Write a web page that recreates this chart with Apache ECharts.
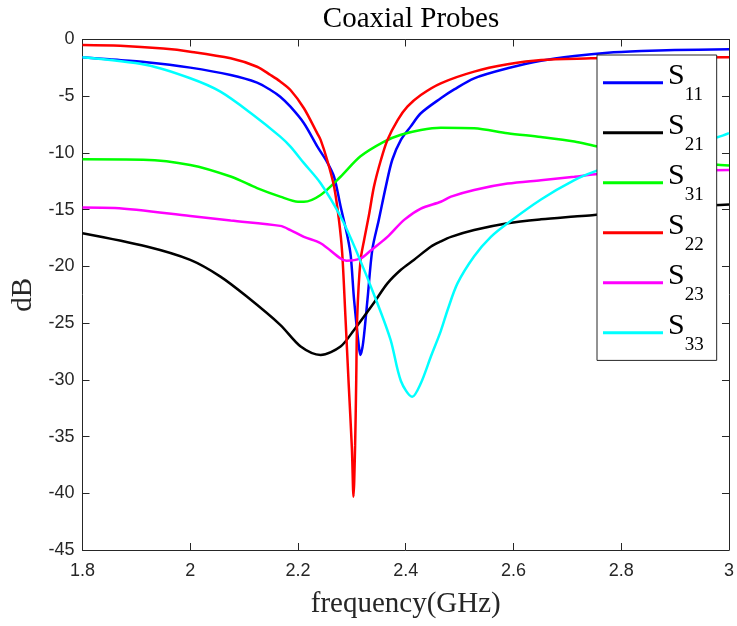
<!DOCTYPE html>
<html><head><meta charset="utf-8">
<script src="https://cdn.jsdelivr.net/npm/echarts@6/dist/echarts.min.js"></script>
<style>html,body{margin:0;padding:0;background:#fff}#c{width:737px;height:626px}</style>
</head><body><div id="c"></div>
<script>
const seriesNames = ['S11', 'S21', 'S31', 'S22', 'S23', 'S33'];
const seriesColors = ['#0000ff', '#000000', '#00ff00', '#ff0000', '#ff00ff', '#00ffff'];
const xTicks = [1.8, 2, 2.2, 2.4, 2.6, 2.8, 3];
const yTicks = [0, -5, -10, -15, -20, -25, -30, -35, -40, -45];

const s11 = [[1.80,-1.57],[1.85,-1.75],[1.919,-2.0],[2.0,-2.48],[2.075,-3.13],[2.124,-3.8],[2.149,-4.45],[2.167,-5.04],[2.186,-5.92],[2.211,-7.38],[2.236,-9.44],[2.254,-10.8],[2.267,-12.1],[2.279,-14.7],[2.292,-17.4],[2.298,-19.1],[2.304,-22.9],[2.313,-27.06],[2.316,-27.8],[2.321,-26.7],[2.329,-22.9],[2.338,-18.5],[2.350,-15.9],[2.363,-12.97],[2.375,-10.6],[2.391,-8.85],[2.409,-7.68],[2.428,-6.5],[2.465,-5.18],[2.49,-4.4],[2.527,-3.42],[2.589,-2.54],[2.651,-1.87],[2.713,-1.45],[2.775,-1.16],[2.837,-1.01],[2.899,-0.92],[3.0,-0.87]];
const s21 = [[1.80,-17.08],[1.919,-18.25],[2.0,-19.43],[2.056,-20.9],[2.105,-22.66],[2.167,-25.15],[2.205,-27.06],[2.242,-27.8],[2.279,-27.06],[2.304,-25.6],[2.341,-23.2],[2.366,-21.5],[2.391,-20.3],[2.415,-19.43],[2.447,-18.25],[2.465,-17.8],[2.484,-17.4],[2.527,-16.8],[2.589,-16.2],[2.651,-15.85],[2.713,-15.6],[2.75,-15.46],[2.8,-15.2],[2.9,-14.8],[3.0,-14.55]];
const s31 = [[1.80,-10.56],[1.913,-10.6],[2.0,-11.06],[2.075,-12.08],[2.124,-13.1],[2.167,-13.85],[2.2,-14.3],[2.211,-14.3],[2.242,-13.7],[2.279,-12.1],[2.316,-10.3],[2.36,-9.0],[2.391,-8.4],[2.428,-7.97],[2.465,-7.77],[2.527,-7.82],[2.589,-8.26],[2.651,-8.6],[2.713,-9.0],[2.757,-9.44],[2.85,-10.2],[2.95,-10.9],[3.0,-11.1]];
const s22 = [[1.80,-0.48],[1.87,-0.55],[1.95,-0.8],[2.0,-1.07],[2.075,-1.66],[2.124,-2.4],[2.149,-3.13],[2.167,-3.7],[2.186,-4.45],[2.211,-6.06],[2.236,-8.3],[2.242,-8.85],[2.254,-10.6],[2.267,-12.97],[2.276,-15.9],[2.282,-18.8],[2.288,-24.4],[2.294,-30.3],[2.300,-36.0],[2.303,-40.3],[2.306,-35.8],[2.308,-30.3],[2.310,-24.4],[2.316,-19.5],[2.323,-17.6],[2.332,-15.4],[2.341,-12.97],[2.354,-10.6],[2.366,-8.85],[2.385,-7.1],[2.403,-5.92],[2.428,-4.89],[2.465,-3.86],[2.527,-2.83],[2.589,-2.19],[2.651,-1.8],[2.744,-1.66],[2.8,-1.6],[3.0,-1.57]];
const s23 = [[1.80,-14.8],[1.86,-14.85],[2.0,-15.55],[2.075,-15.96],[2.167,-16.43],[2.186,-16.8],[2.211,-17.4],[2.242,-17.96],[2.279,-19.3],[2.29,-19.5],[2.316,-19.3],[2.335,-18.6],[2.366,-17.4],[2.397,-15.9],[2.428,-14.9],[2.465,-14.3],[2.484,-13.85],[2.527,-13.26],[2.589,-12.7],[2.651,-12.4],[2.713,-12.1],[2.757,-11.85],[2.9,-11.6],[3.0,-11.5]];
const s33 = [[1.80,-1.57],[1.919,-2.25],[2.0,-3.42],[2.056,-4.6],[2.117,-6.65],[2.167,-8.56],[2.186,-9.44],[2.211,-10.9],[2.242,-12.67],[2.279,-15.6],[2.307,-18.5],[2.347,-23.2],[2.372,-26.5],[2.391,-30.1],[2.412,-31.5],[2.428,-30.3],[2.447,-27.9],[2.465,-25.7],[2.478,-23.8],[2.496,-21.5],[2.527,-19.1],[2.558,-17.4],[2.589,-16.2],[2.651,-14.1],[2.713,-12.4],[2.75,-11.65],[2.8,-10.9],[2.9,-9.5],[2.98,-8.6],[3.0,-8.26]];
const seriesData = [s11, s21, s31, s22, s23, s33];

const axisColor = '#262626';
const tickFont = 'Liberation Sans';
const serif = 'Liberation Serif';
const fmt = v => String(+(+v).toFixed(1));

const chart = echarts.init(document.getElementById('c'), null, {renderer: 'canvas'});
const baseX = {
  type: 'value', min: 1.8, max: 3, interval: 0.2,
  axisLine: {show: true, onZero: false, lineStyle: {color: axisColor, width: 1}},
  axisTick: {show: true, inside: true, length: 7, lineStyle: {color: axisColor}},
  splitLine: {show: false}
};
const baseY = {
  type: 'value', min: -45, max: 0, interval: 5,
  axisLine: {show: true, onZero: false, lineStyle: {color: axisColor, width: 1}},
  axisTick: {show: true, inside: true, length: 7, lineStyle: {color: axisColor}},
  splitLine: {show: false}
};
chart.setOption({
  animation: false,
  backgroundColor: '#ffffff',
  title: {
    text: 'Coaxial Probes', left: 406, top: 0, textAlign: 'center',
    textStyle: {fontFamily: serif, fontWeight: 'normal', fontSize: 29, color: '#000'}
  },
  grid: {left: 82.5, right: 7, top: 39.5, bottom: 76, containLabel: false},
  xAxis: [
    Object.assign({}, baseX, {
      position: 'bottom',
      axisLabel: {show: true, fontFamily: tickFont, fontSize: 18, color: axisColor, margin: 12, formatter: fmt},
      name: 'frequency(GHz)', nameLocation: 'middle', nameGap: 40,
      nameTextStyle: {fontFamily: serif, fontSize: 29, color: axisColor}
    }),
    Object.assign({}, baseX, {position: 'top', axisLabel: {show: false}})
  ],
  yAxis: [
    Object.assign({}, baseY, {
      position: 'left',
      axisLabel: {show: true, fontFamily: tickFont, fontSize: 18, color: axisColor, margin: 8, formatter: fmt},
      name: 'dB', nameLocation: 'middle', nameGap: 43, nameRotate: 90,
      nameTextStyle: {fontFamily: serif, fontSize: 29, color: axisColor}
    }),
    Object.assign({}, baseY, {position: 'right', axisLabel: {show: false}})
  ],
  legend: {
    orient: 'vertical', left: 597, top: 55,
    padding: [5.7, 13, 5.7, 6],
    itemGap: 6, itemWidth: 60, itemHeight: 3,
    icon: 'rect',
    backgroundColor: '#ffffff', borderColor: axisColor, borderWidth: 1,
    data: seriesNames,
    formatter: n => '{s|S}{sub|' + n.slice(1) + '}',
    textStyle: {
      color: '#000',
      rich: {
        s: {fontFamily: serif, fontSize: 30, lineHeight: 30, padding: [0, 0, 14, 0], color: '#000'},
        sub: {fontFamily: serif, fontSize: 19, lineHeight: 20, padding: [24, 0, 0, 0], color: '#000'}
      }
    }
  },
  series: seriesNames.map((n, i) => ({
    name: n, type: 'line', data: seriesData[i],
    xAxisIndex: 0, yAxisIndex: 0,
    symbol: 'none', showSymbol: false, smooth: 0.3,
    color: seriesColors[i],
    lineStyle: {color: seriesColors[i], width: 2.5},
    emphasis: {disabled: true}
  }))
});
</script></body></html>
